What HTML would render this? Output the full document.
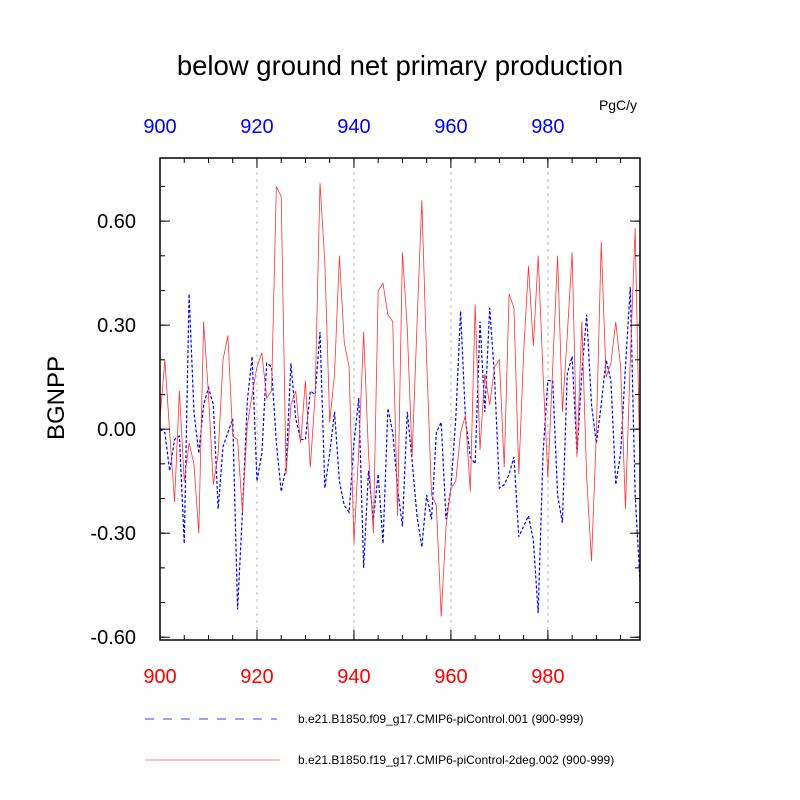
<!DOCTYPE html>
<html><head><meta charset="utf-8"><style>
body{margin:0;background:#fff;}
svg{display:block;font-family:"Liberation Sans",sans-serif;}
</style></head><body>
<svg id="chart" width="800" height="800" viewBox="0 0 800 800">
<text x="400" y="75" text-anchor="middle" font-size="27.5">below ground net primary production</text>
<text x="618" y="110" text-anchor="middle" font-size="14">PgC/y</text>
<text x="0" y="0" transform="translate(64,398) rotate(-90)" text-anchor="middle" font-size="24">BGNPP</text>
<g id="grid"></g><g id="series"></g><g id="axes"></g>
<g>
<line x1="145" y1="719" x2="277" y2="719" stroke="#00f" stroke-width="0.8" stroke-dasharray="9,9"/>
<text x="298" y="723" font-size="12">b.e21.B1850.f09_g17.CMIP6-piControl.001 (900-999)</text>
<line x1="145" y1="760" x2="280" y2="760" stroke="#f00" stroke-width="0.6"/>
<text x="298" y="764" font-size="12">b.e21.B1850.f19_g17.CMIP6-piControl-2deg.002 (900-999)</text>
</g>
</svg>
<script>
const startYear = 900;
const blueValues = [0.00,-0.01,-0.12,-0.03,-0.02,-0.33,0.39,0.05,-0.07,0.07,0.12,0.07,-0.23,-0.05,-0.01,0.03,-0.52,-0.24,0.08,0.21,
-0.15,-0.07,0.19,0.18,-0.04,-0.18,-0.11,0.19,0.03,-0.03,-0.03,0.11,0.10,0.28,-0.17,-0.07,0.05,-0.15,-0.22,-0.24,
-0.04,0.09,-0.40,-0.12,-0.26,-0.13,-0.33,0.06,-0.01,-0.17,-0.28,0.05,-0.09,-0.25,-0.34,-0.19,-0.26,-0.01,0.02,-0.26,
-0.17,0.03,0.34,0.03,-0.08,-0.10,0.31,0.05,0.35,0.15,-0.17,-0.16,-0.13,-0.08,-0.31,-0.28,-0.25,-0.32,-0.53,-0.07,
0.14,0.14,-0.19,-0.27,0.16,0.21,-0.07,0.16,0.33,0.07,-0.04,0.07,0.20,0.14,-0.16,-0.07,0.18,0.41,-0.19,-0.44];
const redValues = [0.03,0.20,-0.01,-0.21,0.11,-0.15,-0.04,-0.10,-0.30,0.31,0.10,-0.16,-0.07,0.20,0.27,-0.02,-0.03,-0.24,0.01,0.10,
0.18,0.22,0.09,0.11,0.70,0.67,-0.13,0.07,0.11,-0.04,0.14,-0.11,0.10,0.71,0.48,0.02,0.16,0.50,0.25,0.18,
-0.33,-0.06,0.28,-0.07,-0.30,0.40,0.42,0.33,0.31,-0.25,0.51,0.29,-0.08,0.30,0.66,0.20,-0.19,-0.22,-0.54,-0.28,
-0.17,-0.15,-0.01,0.04,-0.18,0.36,-0.06,0.16,0.07,0.18,0.20,-0.11,0.39,0.35,-0.13,0.22,0.47,0.24,0.50,0.16,
-0.14,0.18,0.50,0.05,0.27,0.51,-0.08,0.31,-0.14,-0.38,-0.01,0.54,0.15,0.19,0.31,0.18,-0.23,0.20,0.58,-0.12];
const yTicks = [0.6,0.3,0,-0.3,-0.6];
const yTickLabels = ["0.60","0.30","0.00","-0.30","-0.60"];
const xTicks = [900,920,940,960,980];

const X0=160,X1=640,Y0=158,Y1=640, xmin=900, xmax=999, ymin=-0.608, ymax=0.782;
const xs = v => X0 + (v - xmin) / (xmax - xmin) * (X1 - X0);
const ys = v => Y1 - (v - ymin) / (ymax - ymin) * (Y1 - Y0);
const NS="http://www.w3.org/2000/svg";
function mk(tag, attrs, parent){const e=document.createElementNS(NS,tag);for(const k in attrs)e.setAttribute(k,attrs[k]);parent.appendChild(e);return e;}
const grid=document.getElementById('grid'), series=document.getElementById('series'), axes=document.getElementById('axes');

xTicks.forEach(t=>{ if(t===xmin) return;
  const g=mk('line',{x1:xs(t),x2:xs(t),y1:Y0,y2:Y1,stroke:'#bbb','stroke-width':1,'stroke-dasharray':'3,4'},grid);
  
  
});

function path(vals){return vals.map((v,i)=>(i?'L':'M')+xs(startYear+i).toFixed(2)+','+ys(v).toFixed(2)).join('');}
const pb=mk('path',{d:path(blueValues),fill:'none',stroke:'#00f','stroke-width':1.2,'stroke-dasharray':'3,2'},series);


const pr=mk('path',{d:path(redValues),fill:'none',stroke:'#f33','stroke-width':0.8},series);



const frame=mk('rect',{x:X0,y:Y0,width:X1-X0,height:Y1-Y0,fill:'none',stroke:'#000','stroke-width':1.5},axes);



for(let v=-0.6;v<=0.75;v+=0.1){const y=ys(v);
  mk('line',{x1:X0,x2:X0+5,y1:y,y2:y,stroke:'#000','stroke-width':1},axes);
  mk('line',{x1:X1,x2:X1-5,y1:y,y2:y,stroke:'#000','stroke-width':1},axes);}
yTicks.forEach((t,i)=>{const y=ys(t);
  mk('line',{x1:X0,x2:X0+10,y1:y,y2:y,stroke:'#000','stroke-width':1},axes);
  mk('line',{x1:X1,x2:X1-10,y1:y,y2:y,stroke:'#000','stroke-width':1},axes);
  const tx=mk('text',{x:136,y:y+7,'text-anchor':'end','font-size':20},axes);
  tx.textContent=yTickLabels[i];
  
  
});
for(let v=905;v<1000;v+=5){const x=xs(v);
  mk('line',{x1:x,x2:x,y1:Y1,y2:Y1-5,stroke:'#000','stroke-width':1},axes);
  mk('line',{x1:x,x2:x,y1:Y0,y2:Y0+5,stroke:'#000','stroke-width':1},axes);}
xTicks.forEach(t=>{const x=xs(t);
  mk('line',{x1:x,x2:x,y1:Y1,y2:Y1-10,stroke:'#000','stroke-width':1},axes);
  mk('line',{x1:x,x2:x,y1:Y0,y2:Y0+10,stroke:'#000','stroke-width':1},axes);
  const b=mk('text',{x:x,y:683,'text-anchor':'middle','font-size':20,fill:'#f00'},axes);
  b.textContent=t;
  
  
  const tp=mk('text',{x:x,y:133,'text-anchor':'middle','font-size':20,fill:'#00f'},axes);
  tp.textContent=t;
  
  
});
</script>
</body></html>
